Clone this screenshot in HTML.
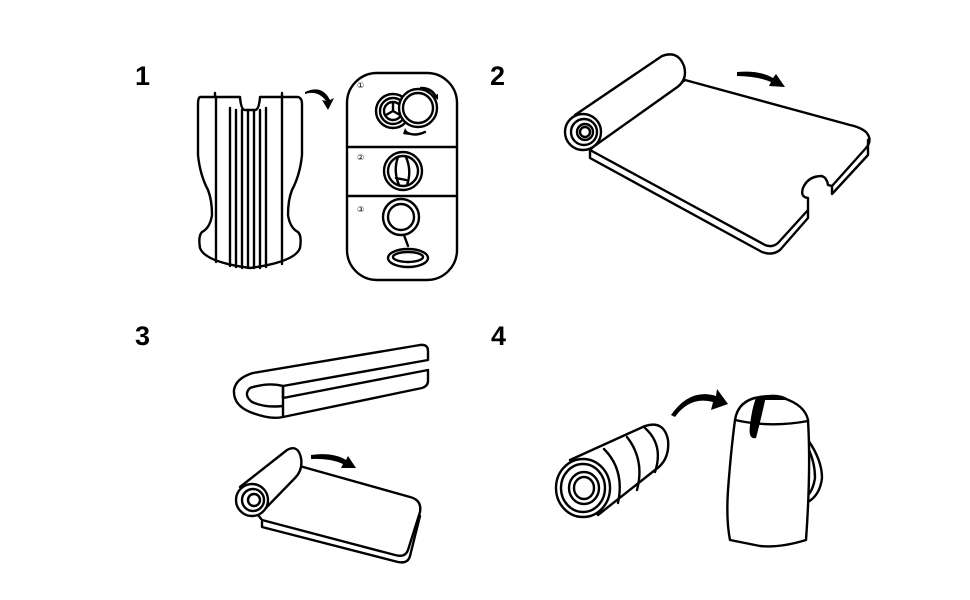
<!DOCTYPE html>
<html><head><style>
html,body{margin:0;padding:0;background:#fff;}
svg{display:block;}
text{font-family:"Liberation Sans",sans-serif;font-size:27px;fill:#000;font-weight:bold;}
.l{fill:none;stroke:#000;stroke-width:2.4;stroke-linejoin:round;stroke-linecap:round;}
.w{fill:#fff;stroke:#000;stroke-width:2.4;stroke-linejoin:round;}
</style></head><body>
<svg width="970" height="600" viewBox="0 0 970 600">
<text x="135" y="85">1</text>
<text x="490" y="85">2</text>
<text x="135" y="345">3</text>
<text x="491" y="345">4</text>

<!-- Panel 1 pad -->
<path class="w" d="M200,97 L240,97 Q241,110 245,110 L255,110 Q259,110 260,97 L298,97 Q302,98 302,104 L302,155 Q300,175 292,190 Q288,200 288,215 Q290,228 298,232 Q302,236 300,248 Q295,262 250,268 Q205,262 200,248 Q198,236 202,232 Q210,228 212,215 Q212,200 208,190 Q200,175 198,155 L198,104 Q198,98 200,97Z"/>
<path class="l" d="M216,97 V262 M230,108 V266 M236,110 V267 M242,110 V268 M248,110 V268 M254,110 V268 M260,110 V268 M266,108 V267 M282,97 V264"/>
<path class="l" d="M215,96 v-3 M282,96 v-3"/>
<path d="M305,92 Q322,84 330,100 L334,98 L328,110 L322,100 L326,101 Q318,90 305,94Z" fill="#000"/>
<!-- valve card -->
<rect class="w" x="347" y="73" width="110" height="207" rx="30"/>
<path class="l" d="M347,147 H457 M347,196 H457"/>
<circle class="l" cx="393" cy="111" r="17"/><circle class="l" cx="393" cy="111" r="13"/><circle class="l" cx="393" cy="111" r="9"/>
<path class="l" d="M393,111 v-8 M393,111 l-7,4 M393,111 l7,4"/>
<circle class="w" cx="418" cy="108" r="19"/><circle class="l" cx="418" cy="108" r="15"/>
<path class="l" d="M421,88 Q432,88 436,97"/><path d="M433,96 l5,-2 l0,6z" fill="#000"/>
<path class="l" d="M406,132 Q414,137 425,132"/><path d="M405,128 l-2,6 l6,1z" fill="#000"/>
<text x="357" y="88" style="font-size:8px;font-weight:normal">①</text>
<text x="357" y="160" style="font-size:8px;font-weight:normal">②</text>
<text x="357" y="212" style="font-size:8px;font-weight:normal">③</text>
<circle class="l" cx="403" cy="171" r="19"/><circle class="l" cx="403" cy="171" r="15"/>
<path class="l" d="M398,157 Q393,171 399,185 M406,157 Q412,171 407,185 M396,178 l10,2"/>
<circle class="l" cx="401" cy="217" r="18"/><circle class="l" cx="401" cy="217" r="13"/>
<path class="l" d="M404,235 L408,246"/>
<ellipse class="l" cx="408" cy="258" rx="20" ry="9"/><ellipse class="l" cx="408" cy="257" rx="15" ry="5"/>

<!-- Panel 2 -->
<path class="w" d="M590,150 L765,245 Q772,248 778,243 L808,210 L808,198 Q800,197 803,188 Q808,176 822,176 Q827,178 828,185 L832,186 L866,148 Q873,140 866,132 Q860,127 850,125 L685,80 L600,140Z"/>
<path class="l" d="M590,150 L590,158 L762,252 Q772,256 780,250 L808,218 V210 M832,186 V194 L868,155 V140"/>
<path class="w" d="M575,115 L662,56 Q678,50 684,66 Q688,80 676,88 L593,147 Z"/>
<circle class="w" cx="583" cy="132" r="18"/><circle class="l" cx="584" cy="132" r="13"/><circle class="l" cx="585" cy="132" r="8"/><circle class="l" cx="585" cy="132" r="5"/>
<path d="M737,72 Q760,70 773,78 L776,74 L785,87 L769,86 L771,82 Q756,76 737,76Z" fill="#000"/>

<!-- Panel 3 top folded -->
<path class="w" d="M253,373 L420,345 Q428,344 428,351 V360 L283,386 V398 L428,370 V381 Q428,386 422,388 L283,417 Q270,420 250,412 Q233,405 234,390 Q236,378 253,373Z"/>
<path class="l" d="M283,386 Q268,382 250,388 Q243,395 252,402 Q265,408 283,406 M283,398 V406 M283,406 V417 M283,386 L283,398"/>
<!-- Panel 3 bottom roll -->
<path class="w" d="M262,520 L395,555 Q405,558 408,550 L420,512 Q422,500 410,497 L296,465 L258,515Z"/>
<path class="l" d="M262,522 L262,527 L398,562 Q408,564 410,556 L420,516"/>
<path class="w" d="M240,487 L287,450 Q298,444 301,458 Q303,470 295,478 L262,512 Z"/>
<circle class="w" cx="252" cy="500" r="16"/><circle class="l" cx="253" cy="500" r="11"/><circle class="l" cx="254" cy="500" r="6"/>
<path d="M311,455 Q333,452 346,460 L348,456 L356,468 L341,468 L343,464 Q330,458 311,459Z" fill="#000"/>

<!-- Panel 4 -->
<path class="w" d="M570,460 L645,426 Q664,420 668,440 Q670,460 655,470 L598,515 Z"/>
<path class="l" d="M604,449 Q625,470 618,503 M627,437 Q645,460 637,490 M645,428 Q664,445 655,472"/>
<ellipse class="w" cx="583" cy="488" rx="27" ry="29"/><ellipse class="l" cx="583" cy="488" rx="22" ry="24"/><ellipse class="l" cx="584" cy="488" rx="15" ry="16"/><ellipse class="l" cx="584" cy="488" rx="10" ry="11"/>
<path d="M671,415 Q690,388 716,396 L717,389 L728,404 L711,410 L713,402 Q690,396 675,417Z" fill="#000"/>
<path class="l" d="M808,440 Q822,460 822,478 Q820,495 808,502 M808,448 Q815,462 815,478 Q813,490 808,495"/>
<path class="w" d="M735,420 Q738,400 760,397 Q770,395 783,398 Q805,405 808,420 Q811,470 806,540 Q780,548 760,546 L730,540 Q726,520 728,490 Q731,450 735,420Z"/>
<path class="l" d="M735,420 Q770,428 808,421"/>
<path d="M756,398 L766,396 Q762,415 756,438 Q748,440 750,425 Q752,408 756,398Z" fill="#000"/>
<path d="M762,396 Q780,392 790,400 Q775,400 764,400Z" fill="#000"/>
</svg>
</body></html>
